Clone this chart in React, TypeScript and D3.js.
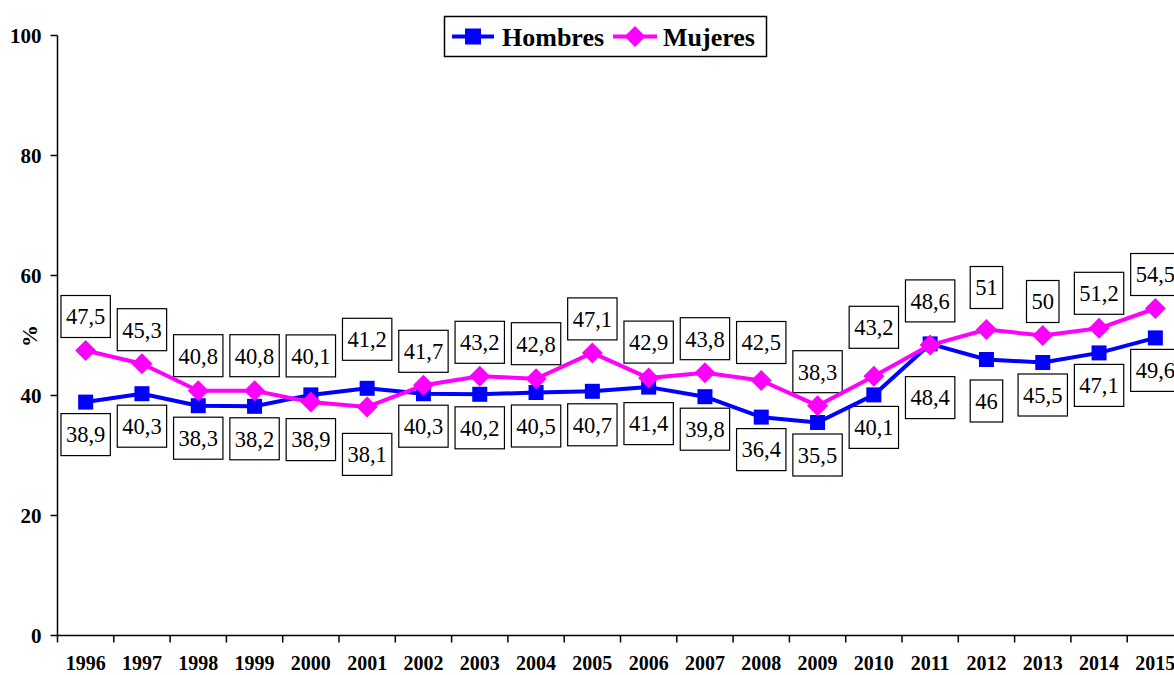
import React from "react";
import * as d3 from "d3";

const years = ["1996","1997","1998","1999","2000","2001","2002","2003","2004","2005","2006","2007","2008","2009","2010","2011","2012","2013","2014","2015"];
const hombres = [38.9,40.3,38.3,38.2,40.1,41.2,40.3,40.2,40.5,40.7,41.4,39.8,36.4,35.5,40.1,48.6,46,45.5,47.1,49.6];
const mujeres = [47.5,45.3,40.8,40.8,38.9,38.1,41.7,43.2,42.8,47.1,42.9,43.8,42.5,38.3,43.2,48.4,51,50,51.2,54.5];
const yTicks = [0,20,40,60,80,100];

// extra label offsets (px) for the upper and lower data-label boxes
const upperNudge = [0,0,1,1,5,15,0,0,1,0,2,0,4,0,15,9,8,0,1,0];
const lowerNudge = [0,0,0,0,5,15,0,1,1,1,4,0,0,0,0,20,9,0,0,0];

const W = 1174, H = 675;
const FONT = "Liberation Serif, DejaVu Serif, serif";
const BLUE = "#0000FF", MAGENTA = "#FF00FF";

const fmt = (v: number) => String(v).replace(".", ",");
const textW = (s: string, fs: number) =>
  s.split("").reduce((a, c) => a + (c === "," ? 0.25 : 0.5), 0) * fs;

export default function App() {
  const x = d3.scaleBand<string>().domain(years).range([57.5, 1183.5]);
  const y = d3.scaleLinear().domain([0, 100]).range([635.5, 35.5]);
  const cx = (i: number) => (x(years[i]) as number) + x.bandwidth() / 2;
  const line = d3.line<number>().x((_, i) => cx(i)).y((v) => y(v));

  const labelFs = 22.5;
  const boxH = 42;
  const labels: { v: number; top: number; cx: number }[] = [];
  years.forEach((_, i) => {
    const hi = Math.max(hombres[i], mujeres[i]);
    const lo = Math.min(hombres[i], mujeres[i]);
    labels.push({ v: hi, top: y(hi) - 13 - upperNudge[i] - boxH, cx: cx(i) });
    labels.push({ v: lo, top: y(lo) + 11.5 + lowerNudge[i], cx: cx(i) });
  });

  const sq = 15;
  const dia = 10.5;
  const diamond = (px: number, py: number, r: number) =>
    `M${px},${py - r}L${px + r},${py}L${px},${py + r}L${px - r},${py}Z`;

  return (
    <svg width={W} height={H} style={{ position: "absolute", left: 0, top: 0, background: "#fff", fontFamily: FONT }}>
      <rect x={0} y={0} width={W} height={H} fill="#fff" />
      {/* y axis */}
      <line x1={57.5} x2={57.5} y1={y(100)} y2={y(0)} stroke="#000" strokeWidth={1.5} />
      {yTicks.map((t) => (
        <g key={t}>
          <line x1={50.5} x2={57.5} y1={y(t)} y2={y(t)} stroke="#000" strokeWidth={1.5} />
          <text x={41.5} y={y(t)} dy="0.35em" textAnchor="end" fontWeight="bold" fontSize={21}>{t}</text>
        </g>
      ))}
      <text transform={`translate(37,336) rotate(-90)`} textAnchor="middle" fontWeight="bold" fontSize={22}>%</text>
      {/* x axis */}
      <line x1={57.5} x2={1183.5} y1={y(0)} y2={y(0)} stroke="#000" strokeWidth={1.5} />
      {years.map((yr) => (
        <line key={"t" + yr} x1={(x(yr) as number)} x2={(x(yr) as number)} y1={y(0)} y2={y(0) + 7} stroke="#000" strokeWidth={1.5} />
      ))}
      <line x1={1183.5} x2={1183.5} y1={y(0)} y2={y(0) + 7} stroke="#000" strokeWidth={1.5} />
      {years.map((yr, i) => (
        <text key={"l" + yr} x={cx(i)} y={670} textAnchor="middle" fontWeight="bold" fontSize={20}>{yr}</text>
      ))}
      {/* data labels */}
      {labels.map((l, k) => {
        const s = fmt(l.v);
        const w = textW(s, labelFs) + 10;
        return (
          <g key={"b" + k}>
            <rect x={l.cx - w / 2} y={l.top} width={w} height={boxH} fill="#fff" stroke="#000" strokeWidth={1.2} />
            <text x={l.cx} y={l.top + boxH / 2} dy="0.35em" textAnchor="middle" fontSize={labelFs}>{s}</text>
          </g>
        );
      })}
      {/* series */}
      <path d={line(hombres) || ""} fill="none" stroke={BLUE} strokeWidth={4} strokeLinejoin="round" />
      {hombres.map((v, i) => (
        <rect key={"h" + i} x={cx(i) - sq / 2} y={y(v) - sq / 2} width={sq} height={sq} fill={BLUE} />
      ))}
      <path d={line(mujeres) || ""} fill="none" stroke={MAGENTA} strokeWidth={4} strokeLinejoin="round" />
      {mujeres.map((v, i) => (
        <path key={"m" + i} d={diamond(cx(i), y(v), dia)} fill={MAGENTA} />
      ))}
      {/* legend */}
      <rect x={444.5} y={16.5} width={322} height={40} fill="#fff" stroke="#000" strokeWidth={1.5} />
      <line x1={452} x2={494} y1={36.5} y2={36.5} stroke={BLUE} strokeWidth={4} />
      <rect x={473 - 8} y={36.5 - 8} width={16} height={16} fill={BLUE} />
      <text x={502} y={46} fontWeight="bold" fontSize={26}>Hombres</text>
      <line x1={613} x2={657} y1={36.5} y2={36.5} stroke={MAGENTA} strokeWidth={4} />
      <path d={diamond(635, 36.5, 10.5)} fill={MAGENTA} />
      <text x={663} y={46} fontWeight="bold" fontSize={26}>Mujeres</text>
    </svg>
  );
}
